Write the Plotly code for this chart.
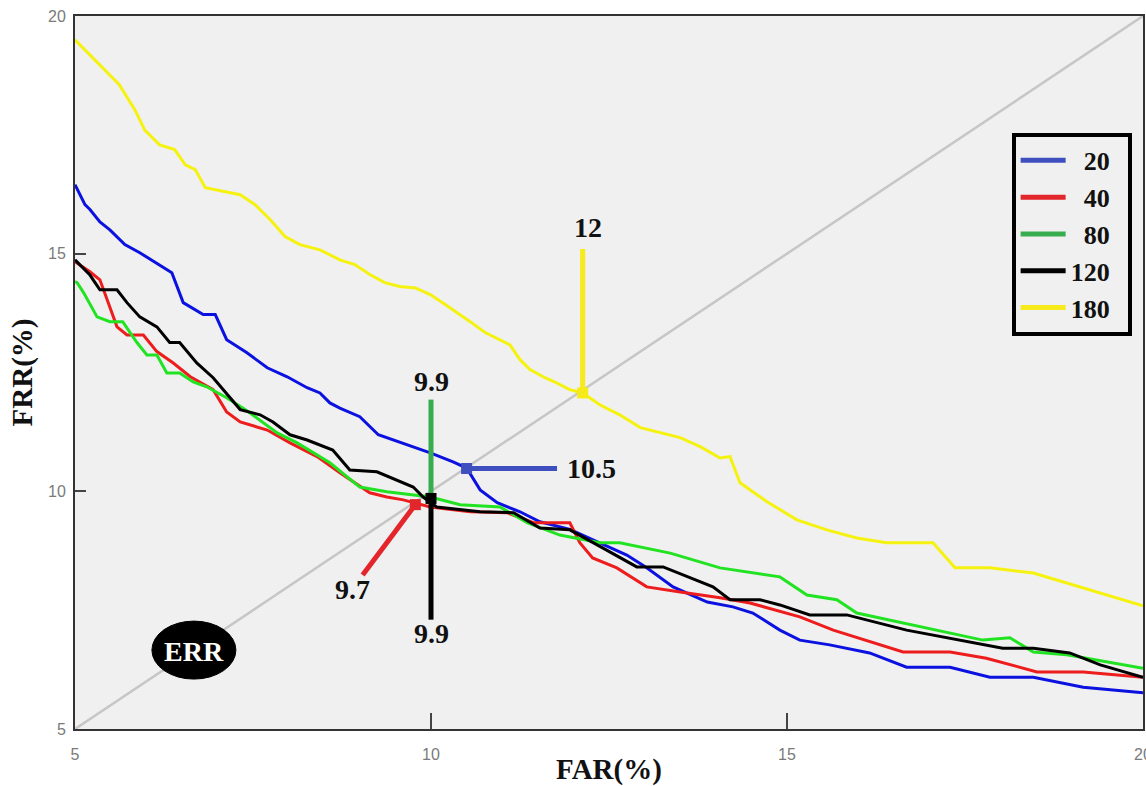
import plotly.graph_objects as go

# ---------------- data ----------------
series_names = ["20", "40", "80", "120", "180"]

far_20 = [5, 5.14, 5.21, 5.35, 5.49, 5.7, 5.91, 6.12, 6.36, 6.52, 6.8, 6.97, 7.13, 7.41, 7.7, 7.98,
          8.26, 8.44, 8.58, 8.72, 9.0, 9.26, 9.56, 9.99, 10.31, 10.5, 10.69, 10.93, 11.25, 11.53,
          11.95, 12.51, 12.75, 13.03, 13.4, 13.88, 14.24, 14.52, 14.9, 15.18, 15.6, 16.16, 16.68,
          17.29, 17.85, 18.46, 19.16, 20]
frr_20 = [16.45, 16.03, 15.93, 15.67, 15.5, 15.19, 15.02, 14.83, 14.6, 13.97, 13.72, 13.72, 13.19,
          12.92, 12.6, 12.41, 12.18, 12.07, 11.86, 11.75, 11.57, 11.19, 11.04, 10.81, 10.62, 10.49,
          10.03, 9.76, 9.57, 9.36, 9.2, 8.81, 8.66, 8.39, 7.99, 7.67, 7.57, 7.44, 7.08, 6.87, 6.77,
          6.6, 6.3, 6.3, 6.09, 6.09, 5.88, 5.76]

far_40 = [5, 5.21, 5.35, 5.59, 5.73, 5.96, 6.15, 6.38, 6.62, 6.94, 7.13, 7.32, 7.7, 8.02, 8.4, 8.72,
          9.14, 9.38, 9.61, 9.99, 10.55, 11.07, 11.44, 11.95, 12.09, 12.27, 12.61, 13.03, 13.5,
          14.06, 14.48, 15.18, 15.65, 16.63, 17.29, 17.8, 18.51, 19.16, 20]
frr_40 = [14.83, 14.62, 14.45, 13.46, 13.29, 13.29, 12.94, 12.7, 12.41, 12.14, 11.67, 11.46, 11.29,
          11.02, 10.73, 10.39, 9.97, 9.88, 9.82, 9.67, 9.57, 9.55, 9.34, 9.34, 8.92, 8.6, 8.39,
          7.99, 7.88, 7.76, 7.65, 7.36, 7.08, 6.62, 6.62, 6.49, 6.2, 6.2, 6.09]

far_80 = [5, 5.03, 5.12, 5.31, 5.49, 5.67, 5.87, 6.01, 6.15, 6.29, 6.47, 6.66, 6.85, 7.13, 7.41,
          7.84, 8.12, 8.44, 8.58, 9.0, 9.38, 9.99, 10.41, 10.97, 11.35, 11.81, 12.37, 12.65, 13.36,
          14.06, 14.9, 15.28, 15.7, 15.98, 17.75, 18.13, 18.46, 18.93, 20]
frr_80 = [14.41, 14.39, 14.18, 13.67, 13.57, 13.57, 13.13, 12.87, 12.87, 12.49, 12.49, 12.3, 12.2,
          11.97, 11.7, 11.23, 11.02, 10.73, 10.6, 10.09, 9.99, 9.88, 9.72, 9.67, 9.34, 9.08, 8.92,
          8.92, 8.7, 8.39, 8.2, 7.82, 7.72, 7.44, 6.87, 6.92, 6.62, 6.56, 6.28]

far_120 = [5, 5.14, 5.21, 5.35, 5.59, 5.73, 5.91, 6.15, 6.33, 6.47, 6.71, 6.94, 7.32, 7.6, 7.78,
           8.02, 8.26, 8.62, 8.86, 9.24, 9.75, 9.89, 10.08, 10.69, 11.16, 11.53, 11.95, 12.41,
           12.89, 13.26, 13.96, 14.2, 14.62, 14.9, 15.32, 15.84, 16.68, 18.03, 18.46, 18.97, 19.4, 20]
frr_120 = [14.87, 14.66, 14.55, 14.24, 14.24, 13.97, 13.67, 13.46, 13.13, 13.13, 12.7, 12.39, 11.72,
           11.61, 11.46, 11.19, 11.08, 10.87, 10.45, 10.41, 10.09, 9.88, 9.67, 9.57, 9.55, 9.23,
           9.19, 8.81, 8.41, 8.41, 7.99, 7.72, 7.72, 7.61, 7.4, 7.4, 7.08, 6.7, 6.7, 6.6, 6.35, 6.09]

far_180 = [5, 5.2, 5.49, 5.62, 5.84, 5.98, 6.19, 6.4, 6.55, 6.69, 6.83, 7.1, 7.32, 7.53, 7.74, 7.95,
           8.16, 8.44, 8.72, 8.93, 9.14, 9.35, 9.56, 9.78, 9.99, 10.2, 10.41, 10.55, 10.76, 10.97,
           11.11, 11.25, 11.39, 11.6, 11.74, 11.95, 12.13, 12.37, 12.65, 12.94, 13.22, 13.5, 13.78,
           14.06, 14.2, 14.34, 14.72, 15.14, 15.56, 15.98, 16.4, 17.05, 17.36, 17.85, 18.46, 19.26, 20]
frr_180 = [19.5, 19.2, 18.77, 18.56, 18.03, 17.6, 17.29, 17.19, 16.87, 16.77, 16.39, 16.3, 16.24,
           16.03, 15.72, 15.36, 15.19, 15.08, 14.87, 14.77, 14.56, 14.39, 14.31, 14.28, 14.14, 13.93,
           13.72, 13.57, 13.34, 13.19, 13.08, 12.77, 12.56, 12.39, 12.3, 12.14, 12.07, 11.82, 11.61,
           11.34, 11.23, 11.13, 10.94, 10.7, 10.73, 10.18, 9.78, 9.4, 9.19, 9.02, 8.92, 8.92, 8.39,
           8.39, 8.28, 7.93, 7.59]

# Equal error rate points (where each curve meets FAR = FRR) and their labels
err_far = [10.5, 9.78, 10.0, 10.0, 12.13]
err_frr = [10.48, 9.72, 9.9, 9.85, 12.07]
err_labels = ["10.5", "9.7", "9.9", "9.9", "12"]

diag = [5, 20]
x_ticks = [5, 10, 15, 20]
y_ticks = [5, 10, 15, 20]

# ---------------- styles ----------------
line_colors = ["#0b12e0", "#ee1d1d", "#22e322", "#000000", "#f6f20f"]
legend_colors = ["#3f4fc0", "#e3262b", "#38ad4f", "#000000", "#f7ea1a"]
# leader line end offset (dx, dy in data units), label offset, marker shown
leader = [(1.27, 0.0), (-0.74, -1.48), (0.0, 2.03), (0.0, -2.55), (0.0, 3.03)]
label_off = [(1.75, 0.0), (-0.88, -1.79), (0.0, 2.42), (0.0, -2.85), (0.07, 3.48)]
show_marker = [True, True, False, True, True]
serif = "Liberation Serif, Times New Roman, serif"

xs = [far_20, far_40, far_80, far_120, far_180]
ys = [frr_20, frr_40, frr_80, frr_120, frr_180]

fig = go.Figure()

# diagonal FAR = FRR
fig.add_trace(go.Scatter(x=diag, y=diag, mode="lines", line=dict(color="#c6c6c6", width=2.5),
                         showlegend=False, hoverinfo="skip"))

for name, x, y, c in zip(series_names, xs, ys, line_colors):
    fig.add_trace(go.Scatter(x=x, y=y, mode="lines", name=name, line=dict(color=c, width=3),
                             showlegend=False))

# ERR leader lines + markers + labels
annotations = []
for i in range(5):
    ex, ey = err_far[i], err_frr[i]
    dx, dy = leader[i]
    fig.add_trace(go.Scatter(x=[ex, ex + dx], y=[ey, ey + dy], mode="lines",
                             line=dict(color=legend_colors[i], width=5),
                             showlegend=False, hoverinfo="skip"))
    if show_marker[i]:
        fig.add_trace(go.Scatter(x=[ex], y=[ey], mode="markers",
                                 marker=dict(symbol="square", size=11, color=legend_colors[i]),
                                 showlegend=False, hoverinfo="skip"))
    lx, ly = label_off[i]
    annotations.append(dict(x=ex + lx, y=ey + ly, xref="x", yref="y", text="<b>%s</b>" % err_labels[i],
                            showarrow=False, font=dict(family=serif, size=28, color="#111111")))

# legend entries (leading no-break spaces right-align the two-digit labels)
pads = ["\u00a0\u00a0", "\u00a0\u00a0", "\u00a0\u00a0", "", ""]
tail = '<span style="color:rgba(0,0,0,0)">0</span>'
for name, c, p in zip(series_names, legend_colors, pads):
    fig.add_trace(go.Scatter(x=[None], y=[None], mode="lines",
                             name="<b>%s%s</b>%s" % (p, name, tail),
                             line=dict(color=c, width=5)))

# ERR badge
fig.add_shape(type="circle", xref="x", yref="y", x0=6.08, x1=7.26, y0=6.05, y1=7.27,
              fillcolor="black", line=dict(color="black", width=1), layer="above")
annotations.append(dict(x=6.67, y=6.64, xref="x", yref="y", text="<b>ERR</b>", showarrow=False,
                        font=dict(family=serif, size=28, color="white")))

tick_font = dict(family="Liberation Sans Narrow, Arial Narrow, Liberation Sans, sans-serif",
                 size=16, color="#7a7a7a")

fig.update_layout(
    width=1146, height=786,
    margin=dict(l=75, r=3, t=16, b=57),
    paper_bgcolor="white", plot_bgcolor="#f0f0f0",
    showlegend=True,
    legend=dict(x=0.877, y=0.836, xanchor="left", yanchor="top",
                bgcolor="#f0f0f0", bordercolor="black", borderwidth=4,
                font=dict(family=serif, size=26, color="#111111"),
                itemwidth=45, tracegroupgap=0),
    annotations=annotations,
    xaxis=dict(range=[5, 20], tickvals=x_ticks, ticktext=[str(v) for v in x_ticks],
               automargin=False, ticklabeloverflow="allow",
               showgrid=False, zeroline=False, ticks="inside", ticklen=16, tickwidth=2,
               tickcolor="#444", showline=True, linecolor="#333", linewidth=2, mirror=True,
               tickfont=tick_font, ticklabelstandoff=10,
               title=dict(text="<b>FAR(%)</b>", font=dict(family=serif, size=29, color="#111111"),
                          standoff=0)),
    yaxis=dict(range=[5, 20], tickvals=y_ticks, ticktext=[str(v) for v in y_ticks],
               automargin=False, ticklabeloverflow="allow",
               showgrid=False, zeroline=False, ticks="inside", ticklen=11, tickwidth=2,
               tickcolor="#444", showline=True, linecolor="#333", linewidth=2, mirror=True,
               tickfont=tick_font, ticklabelstandoff=4,
               title=dict(text="<b>FRR(%)</b>", font=dict(family=serif, size=29, color="#111111"),
                          standoff=7)),
)

fig.write_html("out.html", config={"displayModeBar": False},
               post_script="document.body.style.margin='0';document.body.style.overflow='hidden';")
